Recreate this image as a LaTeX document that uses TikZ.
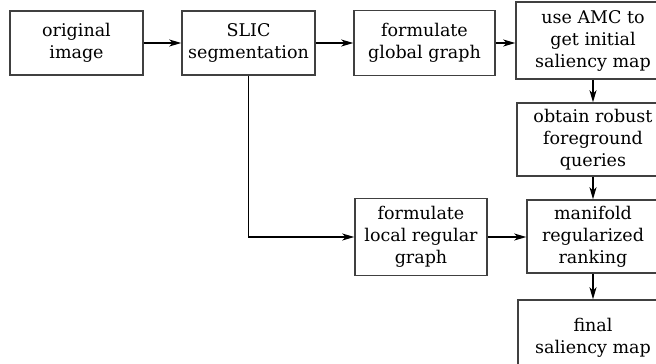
\documentclass[tikz,border=0pt]{standalone}
\usepackage{fontspec}
\setmainfont{DejaVu Serif}
\usetikzlibrary{arrows.meta}

\tikzset{
  box/.style={draw=black!75, line width=1.5pt, align=center, inner sep=0pt,
    font=\fontsize{17.5}{22}\selectfont},
  arr/.style={-{Stealth[length=12pt,width=7pt,inset=3.5pt]}, line width=1.4pt}
}

\begin{document}
\begin{tikzpicture}[x=1pt,y=-1pt]
\useasboundingbox (0,0) rectangle (656,364);
\clip (0,0) rectangle (656,364);
% top row
\node[box, minimum width=133pt, minimum height=64pt] (orig) at (76.5,43) {original\\image};
\node[box, minimum width=133pt, minimum height=64pt] (slic) at (248.5,43) {SLIC\\segmentation};
\node[box, minimum width=141pt, minimum height=65pt] (global) at (424.5,43) {formulate\\global graph};
% right column
\node[box, minimum width=154pt, minimum height=77pt] (amc) at (593,40.5) {use AMC to\\get initial\\saliency map};
\node[box, minimum width=152pt, minimum height=73pt] (robust) at (593,139.5) {obtain robust\\foreground\\queries};
\node[box, minimum width=132pt, minimum height=73pt] (ranking) at (593,236.5) {manifold\\regularized\\ranking};
\node[box, minimum width=150pt, minimum height=75pt] (final) at (593,337.5) {final\\saliency map};
% local graph
\node[box, minimum width=132pt, minimum height=77pt] (local) at (421,237) {formulate\\local regular\\graph};

\draw[arr] (orig) -- (slic);
\draw[arr] (slic) -- (global);
\draw[arr] (global.east) -- (global.east -| amc.west);
\draw[arr] (amc) -- (robust);
\draw[arr] (robust) -- (ranking);
\draw[arr] (ranking) -- (final);
\draw[arr] (slic.south) |- (local.west);
\draw[arr] (local.east) -- (local.east -| ranking.west);
\end{tikzpicture}
\end{document}
